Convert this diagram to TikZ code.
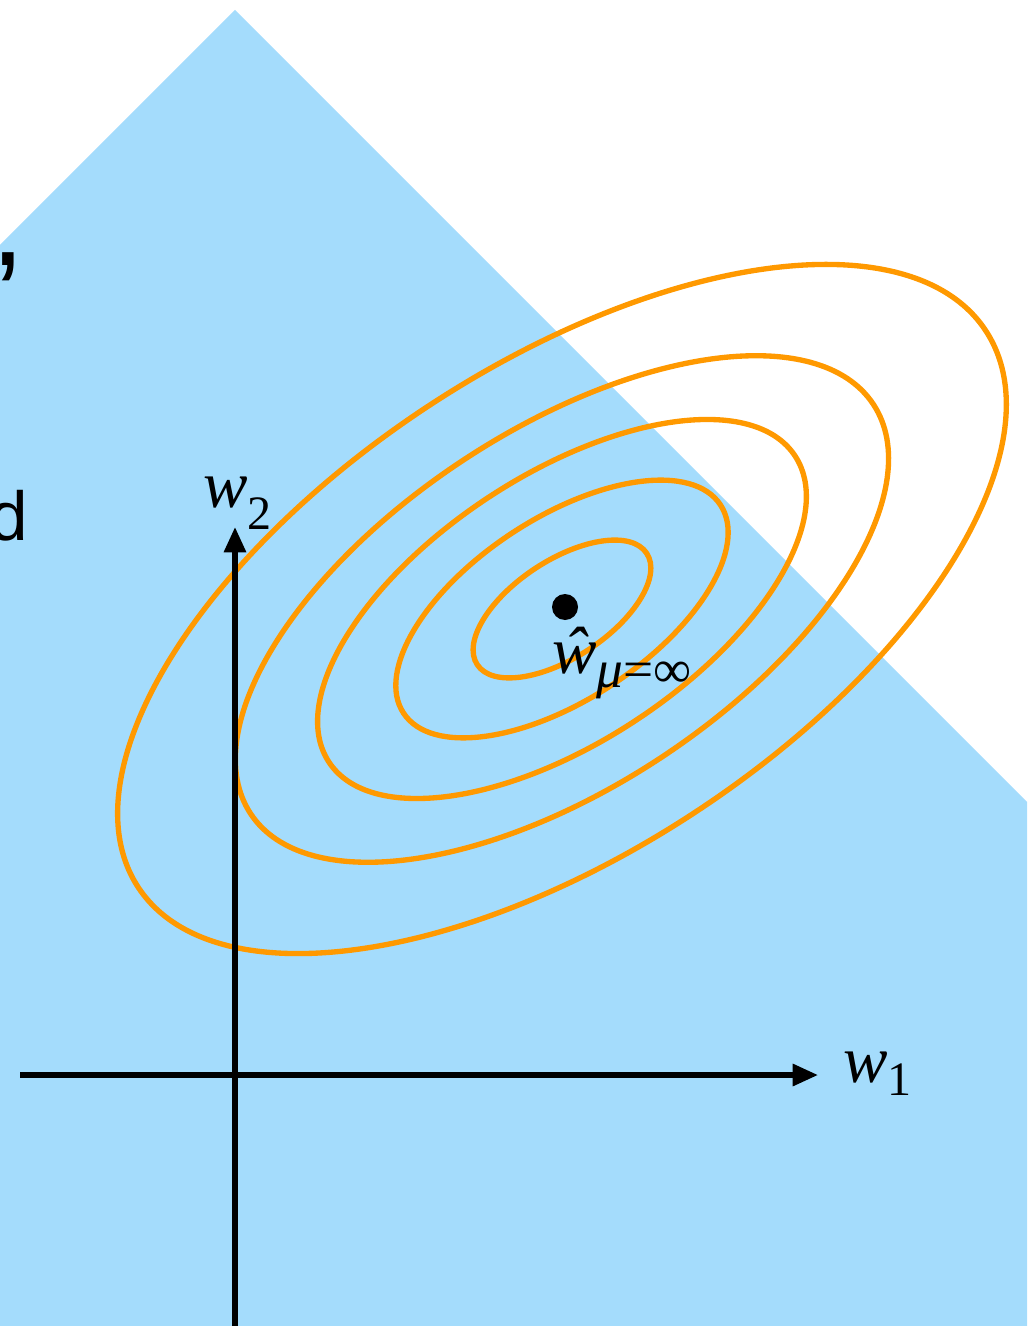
\documentclass[tikz,border=0pt]{standalone}
\usepackage{fontspec}
\setmainfont{Liberation Serif}
\newfontfamily\slidefont{Liberation Sans}
\usetikzlibrary{arrows.meta}
\definecolor{regblue}{RGB}{164,220,252}
\definecolor{contourorange}{RGB}{255,153,0}
\tikzset{
  axisline/.style={line width=3.9pt, -{Triangle[length=19pt,width=16pt]}},
  contourline/.style={draw=contourorange, line width=4pt},
  lbl/.style={anchor=base west, inner sep=0pt, outer sep=0pt},
}
\newcommand{\bigw}{\fontsize{50}{50}\selectfont}
\newcommand{\subw}{\fontsize{36}{36}\selectfont}
\newcommand{\subm}{\fontsize{40}{40}\selectfont}
\begin{document}
\begin{tikzpicture}[x=0.75pt,y=-0.75pt]
\useasboundingbox (0,0) rectangle (1027,1326);
\clip (0,0) rectangle (1027,1326);
% L1 constraint region
\fill[regblue] (235,10) -- (1300,1075) -- (235,2140) -- (-830,1075) -- cycle;
% clipped slide text
\node[lbl] (comma) at (-8,266) {\slidefont\fontsize{90}{90}\selectfont ,};
\node[lbl] (dtext) at (-10,540) {\slidefont\fontsize{52}{52}\selectfont d};
% contours
\coordinate (ctr) at (562,609);
\foreach \s in {1,0.735,0.55,0.374,0.2}{
  \draw[contourline, rotate around={33.3:(ctr)}] (ctr) ellipse [x radius=507*\s, y radius=243*\s];
}
% axes
\coordinate (xstart) at (20,1075);
\coordinate (xend) at (818,1075);
\coordinate (ystart) at (235,1330);
\coordinate (yend) at (235,527);
\draw[axisline] (xstart) -- (xend);
\draw[axisline] (ystart) -- (yend);
\node[lbl] (w1) at (843,1082) {\bigw\textit{w}\raisebox{-9.75pt}{\subw 1}};
\node[lbl] (w2) at (203,507) {\bigw\textit{w}\raisebox{-17pt}{\subw 2}};
% optimum
\fill (565,607) circle (13) coordinate (opt);
\node[lbl] (what) at (552,673) {\bigw\textit{ŵ}\raisebox{-10.5pt}{\subm\textit{μ}=∞}};
\end{tikzpicture}
\end{document}
